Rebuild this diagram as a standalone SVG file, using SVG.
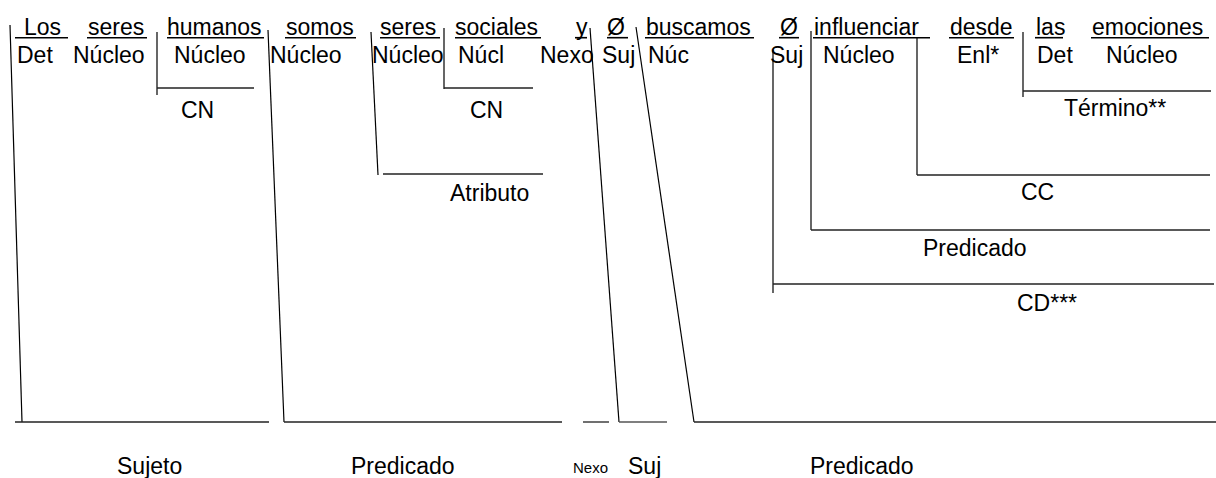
<svg xmlns="http://www.w3.org/2000/svg" width="1216" height="478" viewBox="0 0 1216 478">
<style>
text{font-family:"Liberation Sans",Arial,sans-serif;font-size:23px;fill:#000}
.sm{font-size:15px}
.u{stroke:#000;stroke-width:1.6}
.v{stroke:#000;stroke-width:1.2;fill:none}
.h{stroke:#222;stroke-width:1.3;fill:none}
</style>
<rect width="1216" height="478" fill="#fff"/>
<g id="words">
<text x="24" y="35">Los</text>
<text x="88" y="35">seres</text>
<text x="167" y="35">humanos</text>
<text x="286" y="35">somos</text>
<text x="380" y="35">seres</text>
<text x="455" y="35">sociales</text>
<text x="576" y="35">y</text>
<text x="607" y="35">Ø</text>
<text x="646" y="35">buscamos</text>
<text x="780" y="35">Ø</text>
<text x="814" y="35">influenciar</text>
<text x="950" y="35">desde</text>
<text x="1036" y="35">las</text>
<text x="1092" y="35">emociones</text>
</g>
<g id="underlines">
<line class="u" x1="15" y1="37.7" x2="68" y2="37.7"/>
<line class="u" x1="87" y1="37.7" x2="147" y2="37.7"/>
<line class="u" x1="167" y1="37.7" x2="264" y2="37.7"/>
<line class="u" x1="285" y1="37.7" x2="356" y2="37.7"/>
<line class="u" x1="380" y1="37.7" x2="440" y2="37.7"/>
<line class="u" x1="455" y1="37.7" x2="541" y2="37.7"/>
<line class="u" x1="575" y1="37.7" x2="587" y2="37.7"/>
<line class="u" x1="607" y1="37.7" x2="628" y2="37.7"/>
<line class="u" x1="645" y1="37.7" x2="754" y2="37.7"/>
<line class="u" x1="779" y1="37.7" x2="799" y2="37.7"/>
<line class="u" x1="813" y1="37.7" x2="930" y2="37.7"/>
<line class="u" x1="949" y1="37.7" x2="1014" y2="37.7"/>
<line class="u" x1="1035" y1="37.7" x2="1063" y2="37.7"/>
<line class="u" x1="1091" y1="37.7" x2="1209" y2="37.7"/>
</g>
<g id="functions">
<text x="17" y="63">Det</text>
<text x="73" y="63">Núcleo</text>
<text x="174" y="63">Núcleo</text>
<text x="270" y="63">Núcleo</text>
<text x="372" y="63">Núcleo</text>
<text x="458" y="63">Núcl</text>
<text x="540" y="63">Nexo</text>
<text x="602" y="63">Suj</text>
<text x="648" y="63">Núc</text>
<text x="770" y="63">Suj</text>
<text x="823" y="63">Núcleo</text>
<text x="957" y="63">Enl*</text>
<text x="1037" y="63">Det</text>
<text x="1106" y="63">Núcleo</text>
</g>
<g id="labels">
<text x="181" y="118">CN</text>
<text x="470" y="118">CN</text>
<text x="1064" y="116">Término**</text>
<text x="450" y="201">Atributo</text>
<text x="1021" y="200">CC</text>
<text x="923" y="256">Predicado</text>
<text x="1017" y="311">CD***</text>
<text x="117" y="474">Sujeto</text>
<text x="351" y="474">Predicado</text>
<text class="sm" x="573" y="473">Nexo</text>
<text x="628" y="474">Suj</text>
<text x="810" y="474">Predicado</text>
</g>
<g id="connectors">
<polyline class="v" points="10,25 22,422"/>
<line class="h" x1="15" y1="422" x2="269" y2="422"/>
<polyline class="v" points="268,30 284,422"/>
<line class="h" x1="284" y1="422" x2="562" y2="422"/>
<line class="h" x1="583" y1="422" x2="609" y2="422"/>
<polyline class="v" points="590,28 619,422"/>
<line x1="619" y1="422" x2="667" y2="422" stroke="#555" stroke-width="1.6"/>
<polyline class="v" points="636,27 694,422"/>
<line class="h" x1="694" y1="422" x2="1216" y2="422"/>
<line class="v" x1="157" y1="32" x2="157" y2="95"/>
<line class="h" x1="157" y1="88" x2="254" y2="88"/>
<line class="v" x1="444" y1="28" x2="444" y2="89"/>
<line class="h" x1="444" y1="88" x2="533" y2="88"/>
<polyline class="v" points="371,32 378,175"/>
<line class="h" x1="383" y1="174" x2="543" y2="174"/>
<line class="v" x1="773" y1="50" x2="773" y2="293"/>
<line class="h" x1="773" y1="284" x2="1214" y2="284"/>
<line class="v" x1="811" y1="31" x2="811" y2="230"/>
<line class="h" x1="811" y1="230" x2="1210" y2="230"/>
<line class="v" x1="917" y1="38" x2="917" y2="175"/>
<line class="h" x1="917" y1="175" x2="1210" y2="175"/>
<line class="v" x1="1023" y1="32" x2="1023" y2="97"/>
<line class="h" x1="1023" y1="91" x2="1211" y2="91"/>
</g>
</svg>
